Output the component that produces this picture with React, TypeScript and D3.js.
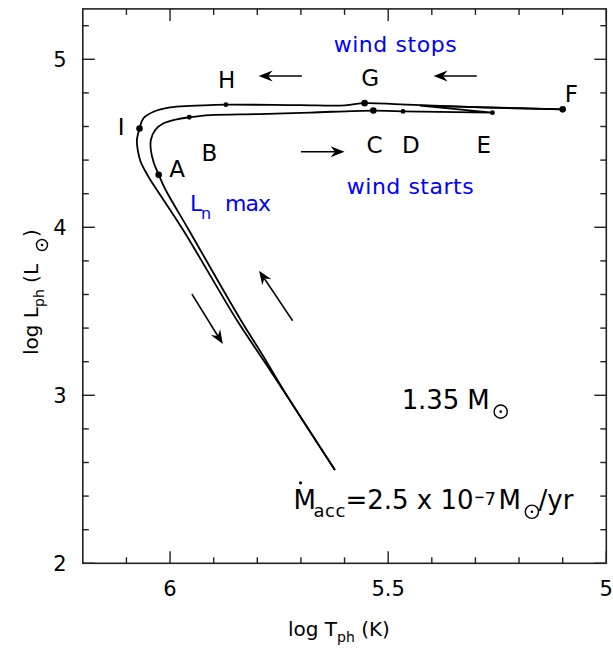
import React from "react";
import * as d3 from "d3";

const width = 613;
const height = 649;
const margin = { top: 8.9, right: 6.7, bottom: 85.7, left: 82.8 };

// axis ranges: log T_ph runs backwards (hot on the left)
const logTRange = [6.2, 5.0];
const logLRange = [2.0, 5.3];

const xMajorTicks = [6, 5.5, 5];
const xMajorLabels = ["6", "5.5", "5"];
const xMinorTicks = [6.1, 5.9, 5.8, 5.7, 5.6, 5.4, 5.3, 5.2, 5.1];
const yMajorTicks = [2, 3, 4, 5];
const yMajorLabels = ["2", "3", "4", "5"];
const yMinorTicks = [2.2, 2.4, 2.6, 2.8, 3.2, 3.4, 3.6, 3.8, 4.2, 4.4, 4.6, 4.8, 5.2];

// rising branch: start -> A (Ln max) -> B -> C -> D
const riseT = [5.622, 5.74, 5.788, 5.838, 5.957, 6.01, 6.026, 6.038, 6.044, 6.044, 6.034, 6.015, 5.985, 5.956, 5.908, 5.794, 5.679, 5.534, 5.466];
const riseL = [2.555, 3.032, 3.24, 3.448, 3.984, 4.222, 4.313, 4.39, 4.46, 4.52, 4.579, 4.619, 4.643, 4.655, 4.668, 4.674, 4.683, 4.695, 4.69];

// wind phase: D -> E -> back -> F
const windT = [5.466, 5.261, 5.427, 5.1];
const windL = [4.69, 4.682, 4.724, 4.702];

// decline: F -> G -> H -> I -> down
const fallT = [5.1, 5.289, 5.472, 5.554, 5.599, 5.702, 5.872, 5.908, 5.954, 6.0, 6.038, 6.061, 6.07, 6.076, 6.074, 6.068, 6.057, 6.045, 6.03, 5.97, 5.847, 5.794, 5.741, 5.622];
const fallL = [4.702, 4.714, 4.732, 4.739, 4.726, 4.727, 4.73, 4.727, 4.723, 4.714, 4.688, 4.649, 4.588, 4.52, 4.46, 4.395, 4.335, 4.282, 4.222, 3.984, 3.448, 3.24, 3.032, 2.555];

// marked stages
const stageNames = ["A", "B", "C", "D", "E", "F", "G", "H", "I"];
const stageT = [6.026, 5.956, 5.534, 5.466, 5.261, 5.1, 5.554, 5.872, 6.07];
const stageL = [4.313, 4.655, 4.695, 4.69, 4.682, 4.702, 4.739, 4.73, 4.588];
const bigStages = ["A", "C", "F", "G", "I"];

// where the stage letters sit (baseline, centred)
const labelT = [5.984, 5.91, 5.531, 5.448, 5.281, 5.08, 5.541, 5.87, 6.112];
const labelL = [4.298, 4.395, 4.44, 4.44, 4.44, 4.748, 4.841, 4.832, 4.549];

// direction arrows [fromT, fromL, toT, toL]
const arrows = [
  [5.698, 4.901, 5.797, 4.901],
  [5.297, 4.901, 5.396, 4.901],
  [5.7, 4.45, 5.6, 4.45],
  [5.95, 3.603, 5.879, 3.305],
  [5.719, 3.444, 5.796, 3.742],
];

const FONT = "'DejaVu Sans', 'Liberation Sans', sans-serif";
const BLUE = "#0000ff";

function arrowPath(x1: number, y1: number, x2: number, y2: number) {
  const dx = x2 - x1;
  const dy = y2 - y1;
  const len = Math.sqrt(dx * dx + dy * dy);
  const ux = dx / len;
  const uy = dy / len;
  const nx = -uy;
  const ny = ux;
  const hl = 14;
  const hw = 5.5;
  const notch = 4.5;
  const bx = x2 - ux * hl;
  const by = y2 - uy * hl;
  const kx = x2 - ux * (hl - notch);
  const ky = y2 - uy * (hl - notch);
  return {
    shaft: `M${x1},${y1}L${kx},${ky}`,
    head: `M${x2},${y2}L${bx + nx * hw},${by + ny * hw}L${kx},${ky}L${bx - nx * hw},${by - ny * hw}Z`,
  };
}

function Sun({ cx, cy, r }: { cx: number; cy: number; r: number }) {
  return (
    <g>
      <circle cx={cx} cy={cy} r={r} fill="none" stroke="#000" strokeWidth={1.4} />
      <circle cx={cx} cy={cy} r={1.3} fill="#000" />
    </g>
  );
}

export default function App() {
  const x = d3.scaleLinear().domain(logTRange).range([margin.left, width - margin.right]);
  const y = d3.scaleLinear().domain(logLRange).range([height - margin.bottom, margin.top]);

  const line = d3
    .line<[number, number]>()
    .x((d) => x(d[0]))
    .y((d) => y(d[1]))
    .curve(d3.curveCatmullRom.alpha(0.5));
  const straight = d3
    .line<[number, number]>()
    .x((d) => x(d[0]))
    .y((d) => y(d[1]));

  const rise = d3.zip(riseT, riseL) as [number, number][];
  const wind = d3.zip(windT, windL) as [number, number][];
  const fall = d3.zip(fallT, fallL) as [number, number][];

  const x0 = margin.left;
  const x1 = width - margin.right;
  const y0 = margin.top;
  const y1 = height - margin.bottom;
  const axisColor = "#222";

  // annotation anchors
  const mx = x(5.469);
  const my = y(2.917);
  const ax = x(5.717);
  const ay = y(2.321);
  const lx = x(5.954);
  const ly = y(4.097);

  return (
    <svg
      width={width}
      height={height}
      style={{ position: "absolute", left: 0, top: 0, background: "#fff" }}
      fontFamily={FONT}
    >
      {/* frame */}
      <rect x={x0} y={y0} width={x1 - x0} height={y1 - y0} fill="none" stroke={axisColor} strokeWidth={1.6} />

      {/* ticks, mirrored on all sides */}
      {xMajorTicks.map((t) => (
        <g key={"xM" + t} stroke={axisColor} strokeWidth={1.4}>
          <line x1={x(t)} x2={x(t)} y1={y1} y2={y1 - 12} />
          <line x1={x(t)} x2={x(t)} y1={y0} y2={y0 + 12} />
        </g>
      ))}
      {xMinorTicks.map((t) => (
        <g key={"xm" + t} stroke={axisColor} strokeWidth={1.4}>
          <line x1={x(t)} x2={x(t)} y1={y1} y2={y1 - 6} />
          <line x1={x(t)} x2={x(t)} y1={y0} y2={y0 + 6} />
        </g>
      ))}
      {yMajorTicks.map((t) => (
        <g key={"yM" + t} stroke={axisColor} strokeWidth={1.4}>
          <line x1={x0} x2={x0 + 12} y1={y(t)} y2={y(t)} />
          <line x1={x1} x2={x1 - 12} y1={y(t)} y2={y(t)} />
        </g>
      ))}
      {yMinorTicks.map((t) => (
        <g key={"ym" + t} stroke={axisColor} strokeWidth={1.4}>
          <line x1={x0} x2={x0 + 6} y1={y(t)} y2={y(t)} />
          <line x1={x1} x2={x1 - 6} y1={y(t)} y2={y(t)} />
        </g>
      ))}

      {/* tick labels */}
      {xMajorTicks.map((t, i) => (
        <text key={"xl" + t} x={x(t)} y={y1 + 33} textAnchor="middle" fontSize={21}>
          {xMajorLabels[i]}
        </text>
      ))}
      {yMajorTicks.map((t, i) => (
        <text key={"yl" + t} x={60} y={y(t) + 8} textAnchor="middle" fontSize={21}>
          {yMajorLabels[i]}
        </text>
      ))}

      {/* axis titles */}
      <text x={288} y={636} fontSize={20}>
        log T
        <tspan fontSize={14} dy={6}>ph</tspan>
        <tspan dy={-6}> (K)</tspan>
      </text>
      <g transform="translate(38,355) rotate(-90)">
        <text x={0} y={0} fontSize={20}>
          log L
          <tspan fontSize={14} dy={6}>ph</tspan>
          <tspan dy={-6}> (L</tspan>
        </text>
        <Sun cx={110} cy={4} r={5.5} />
        <text x={118} y={0} fontSize={20}>)</text>
      </g>

      {/* evolutionary track */}
      <path d={line(rise) ?? ""} fill="none" stroke="#000" strokeWidth={1.8} />
      <path d={straight(wind) ?? ""} fill="none" stroke="#000" strokeWidth={1.8} />
      <path d={line(fall) ?? ""} fill="none" stroke="#000" strokeWidth={1.8} />

      {/* stage points and letters */}
      {stageNames.map((s, i) => (
        <circle key={"p" + s} cx={x(stageT[i])} cy={y(stageL[i])} r={bigStages.includes(s) ? 3.3 : 2.4} fill="#000" />
      ))}
      {stageNames.map((s, i) => (
        <text key={"t" + s} x={x(labelT[i])} y={y(labelL[i])} textAnchor="middle" fontSize={23}>
          {s}
        </text>
      ))}

      {/* arrows */}
      {arrows.map((a, i) => {
        const p = arrowPath(x(a[0]), y(a[1]), x(a[2]), y(a[3]));
        return (
          <g key={"a" + i}>
            <path d={p.shaft} stroke="#000" strokeWidth={1.5} fill="none" />
            <path d={p.head} fill="#000" />
          </g>
        );
      })}

      {/* blue annotations */}
      <text x={x(5.625)} y={y(5.045)} fontSize={22} fill={BLUE} textLength={123} lengthAdjust="spacing">
        wind stops
      </text>
      <text x={x(5.595)} y={y(4.198)} fontSize={22} fill={BLUE} textLength={127} lengthAdjust="spacing">
        wind starts
      </text>
      <text x={lx} y={ly} fontSize={22} fill={BLUE}>
        L
      </text>
      <text x={lx + 11} y={ly + 8} fontSize={16} fill={BLUE}>
        n
      </text>
      <text x={lx + 35} y={ly} fontSize={22} fill={BLUE} textLength={46} lengthAdjust="spacing">
        max
      </text>

      {/* mass */}
      <text x={mx} y={my} fontSize={26} textLength={88} lengthAdjust="spacing">
        1.35 M
      </text>
      <Sun cx={mx + 99} cy={my + 2.4} r={6.6} />

      {/* accretion rate */}
      <text x={ax} y={ay} fontSize={26}>
        M
      </text>
      <circle cx={ax + 7} cy={ay - 26.5} r={1.6} fill="#000" />
      <text x={ax + 20} y={ay + 7.4} fontSize={18} textLength={32} lengthAdjust="spacing">
        acc
      </text>
      <text x={ax + 52} y={ay} fontSize={26} textLength={128} lengthAdjust="spacing">
        =2.5 x 10
      </text>
      <line x1={ax + 182} x2={ax + 190} y1={ay - 12} y2={ay - 12} stroke="#000" strokeWidth={1.5} />
      <text x={ax + 191} y={ay - 4.3} fontSize={18}>
        7
      </text>
      <text x={ax + 205} y={ay} fontSize={26}>
        M
      </text>
      <Sun cx={ax + 238.4} cy={ay + 2.4} r={6.6} />
      <text x={ax + 245} y={ay} fontSize={26} textLength={35} lengthAdjust="spacing">
        /yr
      </text>
    </svg>
  );
}
